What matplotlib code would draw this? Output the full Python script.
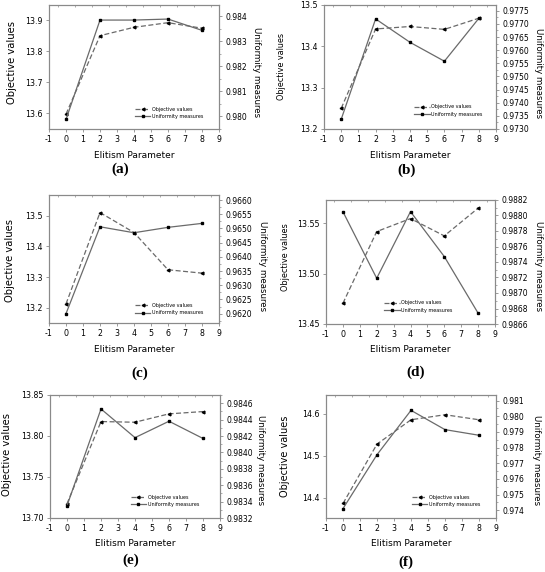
import matplotlib
matplotlib.use("Agg")
import matplotlib.pyplot as plt
from matplotlib.ticker import MultipleLocator, FormatStrFormatter

# Elitism parameter (x axis)
elitism = [0, 2, 4, 6, 8]
x_ticks = list(range(-1, 10))

# Objective values / uniformity measures per panel
obj_a = [13.598, 13.851, 13.878, 13.893, 13.875]
uni_a = [0.97988, 0.98384, 0.98384, 0.98388, 0.98343]

obj_b = [13.250, 13.442, 13.448, 13.441, 13.468]
uni_b = [0.97337, 0.97719, 0.97630, 0.97558, 0.97721]

obj_c = [13.213, 13.510, 13.445, 13.324, 13.313]
uni_c = [0.96200, 0.96506, 0.96485, 0.96504, 0.96518]

obj_d = [13.4705, 13.5417, 13.5546, 13.5374, 13.5649]
uni_d = [0.98805, 0.98719, 0.98805, 0.98747, 0.98674]

obj_e = [13.7174, 13.8176, 13.8168, 13.8270, 13.8298]
uni_e = [0.98335, 0.98453, 0.98418, 0.98438, 0.98417]

obj_f = [14.3866, 14.528, 14.586, 14.598, 14.586]
uni_f = [0.97411, 0.97755, 0.98038, 0.97915, 0.97879]

panel_names = ["(a)", "(b)", "(c)", "(d)", "(e)", "(f)"]

W, H = 545, 572
LINE = "#6a6a6a"
SPINE = "#8a8a8a"

# layout in pixels: axes box (left, top, right, bottom), panel label centre
panels = [
    dict(obj=obj_a, uni=uni_a, box=(49, 5, 219, 129), ylim=(13.55, 13.95), ystep=0.1, yfmt="%.1f",
         rlim=(0.9795, 0.98444), rstep=0.001, rfmt="%.3f", leg=(0.49, 0.06), lab=(120, 169),
         olab=(12, 63, 7.2), ulab=(257, 72)),
    dict(obj=obj_b, uni=uni_b, box=(324, 5, 496, 129), ylim=(13.2, 13.5), ystep=0.1, yfmt="%.1f",
         rlim=(0.9730, 0.97772), rstep=0.0005, rfmt="%.4f", leg=(0.51, 0.08), lab=(407, 170),
         olab=(282, 67, 5.8), ulab=(539, 73)),
    dict(obj=obj_c, uni=uni_c, box=(49, 195, 219, 323), ylim=(13.151, 13.567), ystep=0.1, yfmt="%.1f",
         rlim=(0.96167, 0.96618), rstep=0.0005, rfmt="%.4f", leg=(0.49, 0.04), lab=(140, 373),
         olab=(10, 261, 7.2), ulab=(262, 266)),
    dict(obj=obj_d, uni=uni_d, box=(326, 200, 495, 324), ylim=(13.45, 13.573), ystep=0.05, yfmt="%.2f",
         rlim=(0.9866, 0.9882), rstep=0.0002, rfmt="%.4f", leg=(0.33, 0.07), lab=(416, 372),
         olab=(285, 257, 5.9), ulab=(539, 266)),
    dict(obj=obj_e, uni=uni_e, box=(50, 395, 220, 518), ylim=(13.70, 13.85), ystep=0.05, yfmt="%.2f",
         rlim=(0.9832, 0.9847), rstep=0.0002, rfmt="%.4f", leg=(0.46, 0.07), lab=(131, 560),
         olab=(7, 455, 7.2), ulab=(260, 460)),
    dict(obj=obj_f, uni=uni_f, box=(326, 395, 496, 518), ylim=(14.352, 14.645), ystep=0.1, yfmt="%.1f",
         rlim=(0.97351, 0.98136), rstep=0.001, rfmt="%.3f", leg=(0.49, 0.07), lab=(406, 562),
         olab=(285, 456, 7.0), ulab=(537, 460)),
]

plt.rcParams["font.family"] = ["DejaVu Sans"]
plt.rcParams["axes.unicode_minus"] = False

fig = plt.figure(figsize=(W / 100, H / 100), dpi=100)
fig.patch.set_facecolor("white")


def fx(px):
    return px / W


def fy(py):
    return 1 - py / H


for name, p in zip(panel_names, panels):
    l, t, r, b = p["box"]
    ax = fig.add_axes([fx(l), fy(b), fx(r - l), (b - t) / H])
    ax2 = ax.twinx()

    h1, = ax.plot(elitism, p["obj"], color=LINE, lw=0.9, ls=(0, (4, 2)),
                  marker="<", ms=2.0, mfc="black", mec="black", label="Objective values")
    h2, = ax2.plot(elitism, p["uni"], color=LINE, lw=0.9, ls="-",
                   marker="s", ms=1.8, mfc="black", mec="black", label="Uniformity measures")

    ax.set_xlim(-1, 9)
    ax.set_xticks(x_ticks)
    ax.xaxis.set_minor_locator(MultipleLocator(0.5))
    ax.set_ylim(*p["ylim"])
    ax.yaxis.set_major_locator(MultipleLocator(p["ystep"]))
    ax.yaxis.set_major_formatter(FormatStrFormatter(p["yfmt"]))
    ax2.set_ylim(*p["rlim"])
    ax2.yaxis.set_major_locator(MultipleLocator(p["rstep"]))
    ax2.yaxis.set_minor_locator(MultipleLocator(p["rstep"] / 2))
    ax2.yaxis.set_major_formatter(FormatStrFormatter(p["rfmt"]))

    ax.tick_params(axis="x", which="major", direction="out", length=2.5, width=0.6,
                   colors=SPINE, labelcolor="black", labelsize=5.7, pad=2)
    ax.tick_params(axis="x", which="minor", top=True, bottom=False, direction="in",
                   length=1.5, width=0.5, colors=SPINE)
    ax.tick_params(axis="y", direction="out", length=2.5, width=0.6,
                   colors=SPINE, labelcolor="black", labelsize=5.7, pad=2)
    ax2.tick_params(axis="y", which="major", direction="out", length=2.5, width=0.6,
                    colors=SPINE, labelcolor="black", labelsize=5.5, pad=2)
    ax2.tick_params(axis="y", which="minor", direction="out", length=1.5, width=0.5, colors=SPINE)

    for a in (ax, ax2):
        for s in a.spines.values():
            s.set_color(SPINE)
            s.set_linewidth(0.8)

    ax.legend([h1, h2], ["Objective values", "Uniformity measures"], loc="lower left",
              bbox_to_anchor=p["leg"], frameon=False, fontsize=3.5, handlelength=3.2,
              handletextpad=0.3, labelspacing=0.5, borderpad=0)

    # axis titles
    ox, oy, osz = p["olab"]
    fig.text(fx(ox), fy(oy), "Objective values", rotation=90, ha="center", va="center", fontsize=osz)
    ux, uy = p["ulab"]
    fig.text(fx(ux), fy(uy), "Uniformity measures", rotation=270, ha="center", va="center", fontsize=6.2)
    fig.text(fx((l + r) / 2), fy(b + 26), "Elitism Parameter", ha="center", va="center", fontsize=6.5)

    lx, ly = p["lab"]
    fig.text(fx(lx), fy(ly), name, ha="center", va="center", fontsize=11,
             family="Liberation Serif", weight="bold")

fig.savefig("out.png", dpi=100)
